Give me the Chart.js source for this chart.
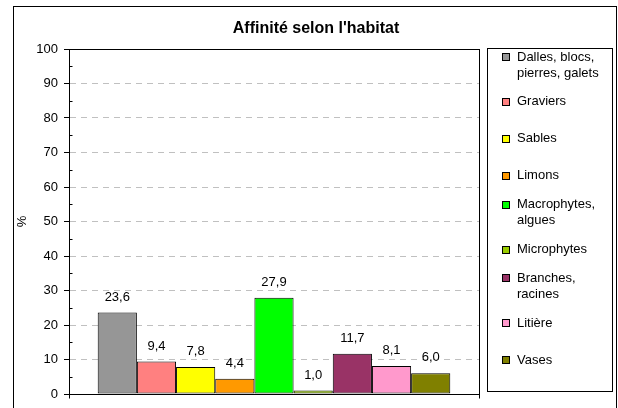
<!DOCTYPE html>
<html>
<head>
<meta charset="utf-8">
<script src="https://cdn.jsdelivr.net/npm/chart.js@4"></script>
<style>
  html, body { margin: 0; padding: 0; background: #fff; }
  #wrap { width: 618px; height: 408px; }
</style>
</head>
<body>
<div id="wrap"><canvas id="habitatChart" width="618" height="408"></canvas></div>
<script>
// Data
const titleText = "Affinité selon l'habitat";
const yAxisTitle = '%';
const habitats = [
    'Dalles, blocs,\npierres, galets',
    'Graviers',
    'Sables',
    'Limons',
    'Macrophytes,\nalgues',
    'Microphytes',
    'Branches,\nracines',
    'Litière',
    'Vases'
];
const affinities = [23.6, 9.4, 7.8, 4.4, 27.9, 1.0, 11.7, 8.1, 6.0];
const barColors = ['#969696', '#FF8080', '#FFFF00', '#FF9900', '#00FF00', '#99CC00', '#993366', '#FF99CC', '#808000'];
const yTicks = [0, 10, 20, 30, 40, 50, 60, 70, 80, 90, 100];

const FONT = '"Liberation Sans", Arial, sans-serif';

// Frame, title, legend, labels and the Excel-style axis details
const decorations = {
    id: 'decorations',
    afterDatasetsDraw(chart) {
        const ctx = chart.ctx;
        const area = chart.chartArea;
        ctx.save();

        // value labels above each bar
        ctx.font = '13px ' + FONT;
        ctx.fillStyle = '#000';
        ctx.textAlign = 'center';
        ctx.textBaseline = 'alphabetic';
        chart.data.datasets.forEach((ds, i) => {
            const bar = chart.getDatasetMeta(i).data[0];
            ctx.fillText(ds.data[0].toFixed(1).replace('.', ','), bar.x, bar.y - 12);
        });

        // plot border
        const l = Math.round(area.left) + 0.5;
        const t = Math.round(area.top) + 0.5;
        const r = Math.round(area.right) + 0.5;
        const b = Math.round(area.bottom) + 0.5;
        ctx.strokeStyle = '#000';
        ctx.lineWidth = 1;
        ctx.strokeRect(l, t, r - l, b - t);

        // minor ticks inside, x end ticks outside
        const y = chart.scales.y;
        ctx.beginPath();
        for (let v = 5; v < 100; v += 10) {
            const py = Math.round(y.getPixelForValue(v)) + 0.5;
            ctx.moveTo(l, py);
            ctx.lineTo(l + 3, py);
        }
        ctx.moveTo(l, b);
        ctx.lineTo(l, b + 4);
        ctx.moveTo(r, b);
        ctx.lineTo(r, b + 4);
        ctx.stroke();
        ctx.restore();
    },
    afterDraw(chart) {
        const ctx = chart.ctx;
        const area = chart.chartArea;
        ctx.save();

        // outer frame
        ctx.strokeStyle = '#000';
        ctx.lineWidth = 1;
        ctx.strokeRect(13.5, 6.5, 603, 420);

        // title
        ctx.fillStyle = '#000';
        ctx.font = 'bold 16px ' + FONT;
        ctx.textAlign = 'center';
        ctx.textBaseline = 'alphabetic';
        ctx.fillText(titleText, 316, 33);

        // y axis title
        ctx.font = '13px ' + FONT;
        ctx.save();
        ctx.translate(22, (area.top + area.bottom) / 2);
        ctx.rotate(-Math.PI / 2);
        ctx.textAlign = 'center';
        ctx.textBaseline = 'middle';
        ctx.fillText(yAxisTitle, 0, 0);
        ctx.restore();

        // legend
        ctx.strokeRect(487.5, 48.5, 125, 343);
        ctx.textAlign = 'left';
        ctx.textBaseline = 'middle';
        habitats.forEach((name, i) => {
            const lines = name.split('\n');
            const cy = 65 + i * 36.9;
            const y0 = cy - (lines.length - 1) * 8;
            ctx.fillStyle = barColors[i];
            ctx.fillRect(502, Math.round(y0) - 4, 8, 8);
            ctx.strokeStyle = '#000';
            ctx.strokeRect(502.5, Math.round(y0) - 3.5, 7, 7);
            ctx.fillStyle = '#000';
            lines.forEach((line, k) => ctx.fillText(line, 517, y0 + k * 16));
        });
        ctx.restore();
    }
};

new Chart(document.getElementById('habitatChart'), {
    type: 'bar',
    data: {
        labels: [''],
        datasets: habitats.map((name, i) => ({
            label: name.replace('\n', ' '),
            data: [affinities[i]],
            backgroundColor: barColors[i],
            borderColor: '#000',
            borderWidth: 1,
            borderSkipped: false,
            categoryPercentage: 0.86,
            barPercentage: 1
        }))
    },
    options: {
        responsive: false,
        animation: false,
        layout: { padding: { left: 0, top: 49, right: 139, bottom: 14 } },
        plugins: {
            legend: { display: false },
            title: { display: false },
            tooltip: { enabled: false }
        },
        scales: {
            x: { display: false },
            y: {
                min: 0,
                max: 100,
                afterFit(scale) { scale.width = 69; },
                afterBuildTicks(scale) { scale.ticks = yTicks.map(v => ({ value: v })); },
                ticks: {
                    color: '#000',
                    padding: 6,
                    font: { family: FONT, size: 13 }
                },
                grid: {
                    color: ctx => (ctx.tick && ctx.tick.value > 0 && ctx.tick.value < 100) ? '#C0C0C0' : 'rgba(0,0,0,0)',
                    tickColor: '#000',
                    tickLength: 5,
                    tickBorderDash: []
                },
                border: { display: true, color: '#000', dash: [6, 5] }
            }
        }
    },
    plugins: [decorations]
});
</script>
</body>
</html>
